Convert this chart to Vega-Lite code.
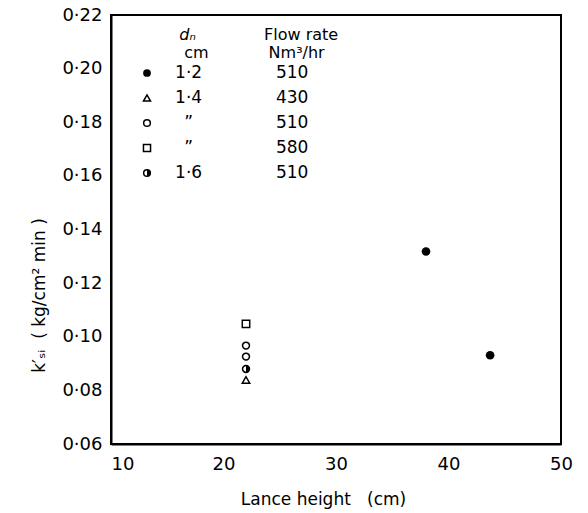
{
  "$schema": "https://vega.github.io/schema/vega-lite/v6.json",
  "width": 450,
  "height": 429,
  "autosize": {"type": "none"},
  "padding": {"left": 111, "top": 15, "right": 27, "bottom": 69},
  "background": "white",
  "config": {
    "view": {"stroke": "black", "strokeWidth": 2},
    "font": "DejaVu Sans",
    "axis": {
      "grid": false,
      "ticks": false,
      "domainColor": "black",
      "domainWidth": 2,
      "labelColor": "black",
      "labelFontSize": 18,
      "titleColor": "black",
      "titleFontSize": 17,
      "titleFontWeight": "normal"
    }
  },
  "resolve": {"scale": {"y": "independent"}},
  "layer": [
    {
      "data": {
        "values": [
          {"lance": 38.0, "k": 0.1318, "sym": "filled"},
          {"lance": 43.7, "k": 0.0931, "sym": "filled"},
          {"lance": 22.0, "k": 0.0839, "sym": "tri"},
          {"lance": 22.0, "k": 0.0967, "sym": "open"},
          {"lance": 22.0, "k": 0.0926, "sym": "open"},
          {"lance": 22.0, "k": 0.1048, "sym": "square"},
          {"lance": 22.0, "k": 0.0880, "sym": "half"}
        ]
      },
      "encoding": {
        "x": {
          "field": "lance",
          "type": "quantitative",
          "scale": {"domain": [10, 50], "nice": false, "zero": false},
          "axis": {
            "title": "Lance height\u00a0\u00a0\u00a0(cm)",
            "values": [10, 20, 30, 40, 50],
            "format": "d",
            "labelAlign": {"condition": {"test": "datum.value == 10", "value": "left"}, "value": "center"},
            "labelPadding": 11,
            "titlePadding": 18,
            "titleX": 212
          }
        },
        "y": {
          "field": "k",
          "type": "quantitative",
          "scale": {"domain": [0.06, 0.22], "nice": false, "zero": false},
          "axis": {
            "title": "k′ₛᵢ\u00a0\u00a0( kg/cm² min )",
            "values": [0.06, 0.08, 0.1, 0.12, 0.14, 0.16, 0.18, 0.2, 0.22],
            "labelExpr": "replace(format(datum.value, '.2f'), '.', '·')",
            "labelPadding": 9,
            "titleX": -63,
            "titleY": 280
          }
        }
      },
      "layer": [
        {"data": {"values": [{"lance": 20}, {"lance": 30}, {"lance": 40}]},
         "mark": {"type": "rule", "color": "black", "strokeWidth": 1.5},
         "encoding": {"y": {"datum": 0.06, "type": "quantitative"}, "y2": {"datum": 0.063}}},
        {"data": {"values": [{"k": 0.08}, {"k": 0.10}, {"k": 0.12}, {"k": 0.14}, {"k": 0.16}, {"k": 0.18}, {"k": 0.20}]},
         "mark": {"type": "rule", "color": "black", "strokeWidth": 1.5},
         "encoding": {"x": {"datum": 10, "type": "quantitative"}, "x2": {"datum": 10.7}}},
        {"transform": [{"filter": "datum.sym == 'filled'"}],
         "mark": {"type": "point", "shape": "circle", "filled": true, "color": "black", "size": 75, "opacity": 1}},
        {"transform": [{"filter": "datum.sym == 'open' || datum.sym == 'half'"}],
         "mark": {"type": "point", "shape": "circle", "filled": false, "color": "black", "strokeWidth": 1.5, "size": 48, "opacity": 1}},
        {"transform": [{"filter": "datum.sym == 'tri'"}],
         "mark": {"type": "point", "shape": "triangle-up", "filled": false, "color": "black", "strokeWidth": 1.5, "size": 55, "opacity": 1}},
        {"transform": [{"filter": "datum.sym == 'square'"}],
         "mark": {"type": "point", "shape": "square", "filled": false, "color": "black", "strokeWidth": 1.5, "size": 55, "opacity": 1}},
        {"transform": [{"filter": "datum.sym == 'half'"}],
         "mark": {"type": "point", "shape": "M0,-1A1,1 0 0,1 0,1Z", "filled": true, "color": "black", "size": 48, "opacity": 1}}
      ]
    },
    {
      "data": {
        "values": [
          {"row": 1, "sym": "filled", "dn": "1·2", "flow": "510"},
          {"row": 2, "sym": "tri", "dn": "1·4", "flow": "430"},
          {"row": 3, "sym": "open", "dn": "”", "flow": "510"},
          {"row": 4, "sym": "square", "dn": "”", "flow": "580"},
          {"row": 5, "sym": "half", "dn": "1·6", "flow": "510"}
        ]
      },
      "encoding": {
        "y": {
          "field": "row",
          "type": "quantitative",
          "scale": {"domain": [-1.32, 15.84], "reverse": true, "nice": false, "zero": false},
          "axis": null
        }
      },
      "layer": [
        {"transform": [{"filter": "datum.sym == 'filled'"}],
         "encoding": {"x": {"datum": 13.2, "type": "quantitative"}},
         "mark": {"type": "point", "shape": "circle", "filled": true, "color": "black", "size": 60, "opacity": 1}},
        {"transform": [{"filter": "datum.sym == 'open' || datum.sym == 'half'"}],
         "encoding": {"x": {"datum": 13.2, "type": "quantitative"}},
         "mark": {"type": "point", "shape": "circle", "filled": false, "color": "black", "strokeWidth": 1.5, "size": 45, "opacity": 1}},
        {"transform": [{"filter": "datum.sym == 'tri'"}],
         "encoding": {"x": {"datum": 13.2, "type": "quantitative"}},
         "mark": {"type": "point", "shape": "triangle-up", "filled": false, "color": "black", "strokeWidth": 1.5, "size": 50, "opacity": 1}},
        {"transform": [{"filter": "datum.sym == 'square'"}],
         "encoding": {"x": {"datum": 13.2, "type": "quantitative"}},
         "mark": {"type": "point", "shape": "square", "filled": false, "color": "black", "strokeWidth": 1.5, "size": 50, "opacity": 1}},
        {"transform": [{"filter": "datum.sym == 'half'"}],
         "encoding": {"x": {"datum": 13.2, "type": "quantitative"}},
         "mark": {"type": "point", "shape": "M0,-1A1,1 0 0,1 0,1Z", "filled": true, "color": "black", "size": 45, "opacity": 1}},
        {"encoding": {"x": {"datum": 16.9, "type": "quantitative"}, "text": {"field": "dn"}},
         "mark": {"type": "text", "align": "center", "baseline": "middle", "fontSize": 17, "color": "black"}},
        {"encoding": {"x": {"datum": 26.1, "type": "quantitative"}, "text": {"field": "flow"}},
         "mark": {"type": "text", "align": "center", "baseline": "middle", "fontSize": 17, "color": "black"}},
        {"data": {"values": [{"row": 0, "h": "dₙ"}]},
         "encoding": {"x": {"datum": 16.8, "type": "quantitative"}, "text": {"field": "h"}},
         "mark": {"type": "text", "align": "center", "baseline": "middle", "fontSize": 16, "fontStyle": "italic", "dy": -13, "color": "black"}},
        {"data": {"values": [{"row": 0, "h": "cm"}]},
         "encoding": {"x": {"datum": 17.6, "type": "quantitative"}, "text": {"field": "h"}},
         "mark": {"type": "text", "align": "center", "baseline": "middle", "fontSize": 16, "dy": 5, "color": "black"}},
        {"data": {"values": [{"row": 0, "h": "Flow rate"}]},
         "encoding": {"x": {"datum": 26.9, "type": "quantitative"}, "text": {"field": "h"}},
         "mark": {"type": "text", "align": "center", "baseline": "middle", "fontSize": 16, "dy": -13, "color": "black"}},
        {"data": {"values": [{"row": 0, "h": "Nm³/hr"}]},
         "encoding": {"x": {"datum": 26.5, "type": "quantitative"}, "text": {"field": "h"}},
         "mark": {"type": "text", "align": "center", "baseline": "middle", "fontSize": 16, "dy": 5, "color": "black"}}
      ]
    }
  ]
}
